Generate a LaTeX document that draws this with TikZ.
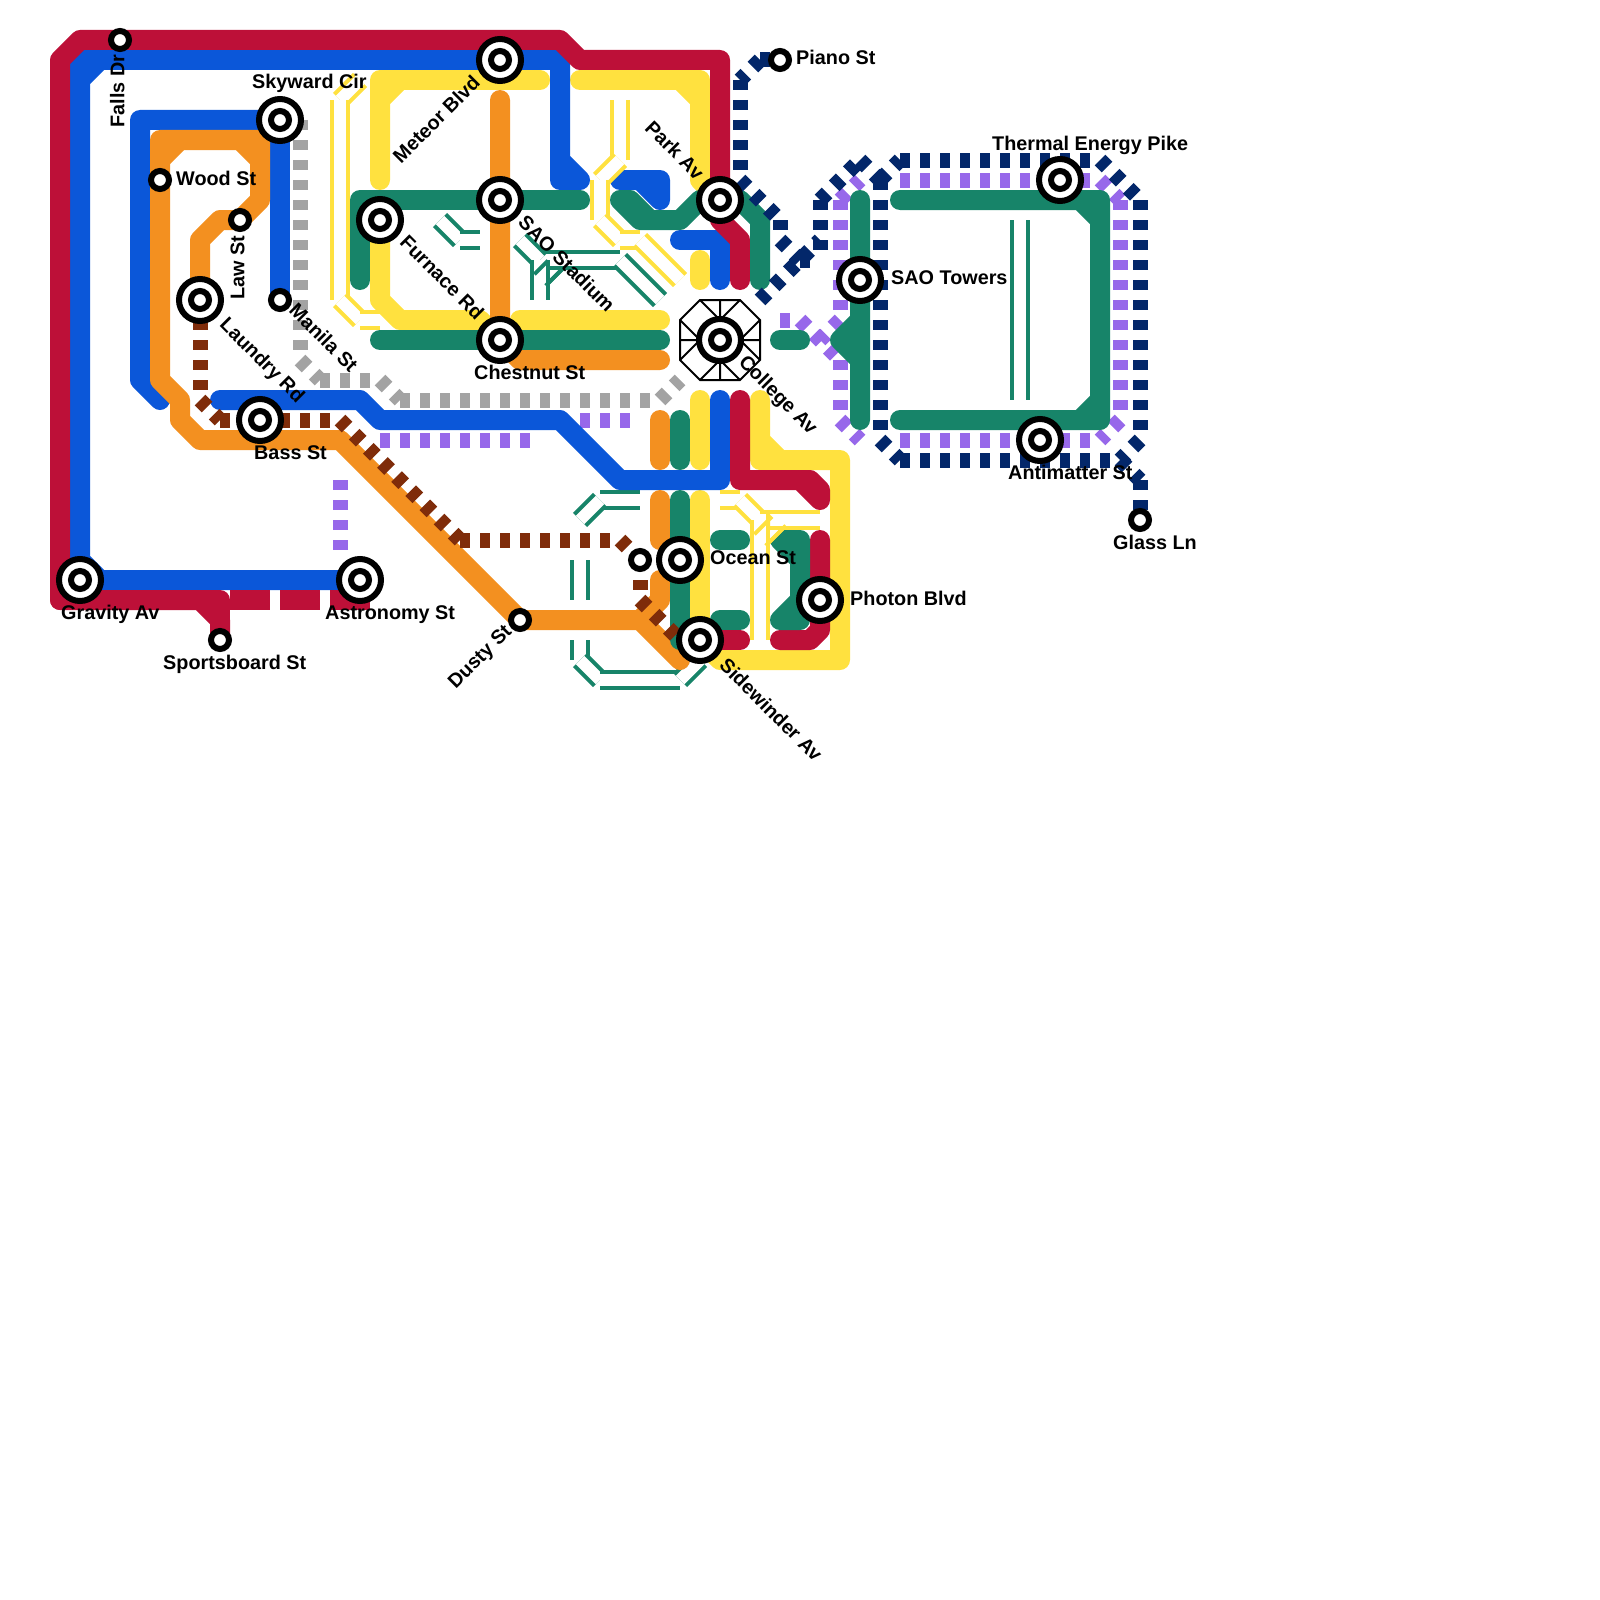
\documentclass[tikz,border=0pt]{standalone}
\usepackage{fontspec}
\setmainfont{Liberation Sans}
\usepackage{xcolor}
\usetikzlibrary{arrows.meta,positioning}
\definecolor{lred}{HTML}{BD1038}
\definecolor{lblue}{HTML}{0B57D9}
\definecolor{lorange}{HTML}{F39020}
\definecolor{lyellow}{HTML}{FFE13F}
\definecolor{lgreen}{HTML}{178469}
\definecolor{lpurple}{HTML}{9768EA}
\definecolor{lnavy}{HTML}{03276A}
\definecolor{lbrown}{HTML}{7F2C0A}
\definecolor{lgrey}{HTML}{A3A3A3}
\begin{document}
\begin{tikzpicture}[x=1pt,y=-1pt,
  solid/.style={line width=20pt,line cap=round,line join=round},
  tunnel/.style={line width=4pt,double=white,double distance=12pt,line cap=butt},
  rail/.style={line width=4pt,line cap=butt},
  dots/.style={line width=15pt,dash pattern=on 10pt off 10pt,line cap=butt},
  bigst/.style={circle,draw=black,fill=white,line width=6pt,minimum size=42pt,inner sep=0pt,outer sep=0pt},
  smallst/.style={circle,draw=black,fill=white,line width=6pt,minimum size=18pt,inner sep=0pt,outer sep=0pt},
  lab/.style={font=\fontsize{19.8}{24}\selectfont\bfseries,inner sep=0pt,text=black},
  rlab/.style={lab,text height=14.5pt,text depth=4pt}]
\useasboundingbox (0,0) rectangle (1600,1600);
\foreach \n/\x/\y in {skyward/280/120,meteor/500/60,furnace/380/220,stadium/500/200,chestnut/500/340,parkav/720/200,college/720/340,towers/860/280,thermal/1060/180,antimatter/1040/440,laundry/200/300,bass/260/420,gravity/80/580,astronomy/360/580,ocean/680/560,sidewinder/700/640,photon/820/600,falls/120/40,wood/160/180,law/240/220,manila/280/300,piano/780/60,glass/1140/520,sportsboard/220/640,dusty/520/620,spare/640/560}{
  \coordinate (\n) at (\x,\y);
}
\foreach \xa/\ya/\xb/\yb in {1020/220/1020/400,440/220/460/240,460/240/480/240,540/280/560/260,540/260/620/260,620/260/660/300,520/240/540/260,540/260/540/300,600/500/640/500,580/520/600/500,580/560/580/600,580/640/580/660,580/660/600/680,600/680/680/680,680/680/700/660}{
  \draw[tunnel,lgreen] (\xa,\ya) -- (\xb,\yb);
}
\draw[rail,lgreen] (534.3,274.3) -- (548,260.6) (545.7,285.7) -- (563,268.4);
\foreach \xa/\ya/\xb/\yb in {780/320/800/320,800/320/840/360,840/320/820/340,840/200/840/320,840/360/840/420,840/420/860/440,840/200/860/180,900/180/1100/180,1100/180/1120/200,1120/200/1120/420,1120/420/1100/440,900/440/1100/440,340/480/340/560,380/440/540/440,580/420/640/420}{
  \draw[dots,lpurple] (\xa,\ya) -- (\xb,\yb);
}
\draw[solid,lyellow] (380,180) -- (380,80) -- (540,80) (380,100) -- (400,80);
\draw[solid,lyellow] (furnace) -- (380,300) -- (400,320) -- (480,320) -- (chestnut);
\draw[solid,lyellow] (520,320) -- (660,320);
\draw[solid,lyellow] (580,80) -- (700,80) -- (700,180) -- (parkav) (680,80) -- (700,100);
\draw[solid,lyellow] (700,260) -- (700,280);
\draw[solid,lyellow] (700,400) -- (700,460);
\draw[solid,lyellow] (700,500) -- (sidewinder);
\draw[solid,lyellow] (760,400) -- (760,460) -- (840,460) -- (840,660) -- (720,660) -- (sidewinder) (760,440) -- (780,460);
\draw[solid,lblue] (astronomy) -- (gravity) -- (80,60) -- (560,60) -- (560,180) -- (580,180) (560,160) -- (580,180) (80,560) -- (100,580) (80,80) -- (100,60);
\draw[solid,lblue] (skyward) -- (140,120) -- (140,380) -- (160,400);
\draw[solid,lblue] (skyward) -- (manila);
\draw[solid,lblue] (620,180) -- (660,180) -- (660,200) (640,180) -- (660,200);
\draw[solid,lblue] (680,240) -- (720,240) -- (720,280);
\draw[solid,lblue] (720,400) -- (720,480) -- (620,480) -- (560,420) -- (380,420) -- (360,400) -- (220,400);
\draw[solid,lorange] (laundry) -- (200,240) -- (220,220) -- (law) -- (260,200) -- (260,140) -- (160,140) -- (160,380) -- (180,400) -- (180,420) -- (200,440) -- (340,440) -- (dusty) -- (640,620) -- (680,660);
\draw[solid,lorange] (160,160) -- (180,140) (240,140) -- (260,160);
\draw[solid,lorange] (500,100) -- (chestnut) -- (520,360) -- (660,360);
\draw[solid,lorange] (660,420) -- (660,460);
\draw[solid,lorange] (660,500) -- (660,540);
\draw[solid,lorange] (660,580) -- (660,600) -- (640,620);
\draw[solid,lred] (sportsboard) -- (220,620) -- (200,600) -- (60,600) -- (60,60) -- (80,40) -- (560,40) -- (580,60) -- (720,60) -- (720,220) -- (740,240) -- (740,280);
\draw[solid,lred] (60,600) -- (220,600) -- (sportsboard);
\draw[lred,line width=20pt,dash pattern=on 40pt off 10pt] (230,600) -- (370,600);
\draw[solid,lred] (740,400) -- (740,480) -- (810,480) -- (820,490) -- (820,500) (800,480) -- (820,500);
\draw[solid,lred] (sidewinder) -- (740,640);
\draw[solid,lred] (820,540) -- (820,630) -- (810,640) -- (780,640);
\draw[solid,lgreen] (360,280) -- (360,200) -- (580,200);
\draw[solid,lgreen] (380,340) -- (660,340);
\draw[solid,lgreen] (620,200) -- (630,200) -- (650,220) -- (680,220) -- (700,200) -- (740,200) -- (760,220) -- (760,280) (620,200) -- (640,220) -- (680,220);
\draw[solid,lgreen] (780,340) -- (800,340);
\draw[solid,lgreen] (860,200) -- (860,420) (860,320) -- (840,340) -- (860,360);
\draw[solid,lgreen] (900,200) -- (1100,200) -- (1100,420) -- (900,420) (1080,200) -- (1100,220) (1080,420) -- (1100,400);
\draw[solid,lgreen] (680,420) -- (680,460);
\draw[solid,lgreen] (680,500) -- (680,640);
\draw[solid,lgreen] (720,540) -- (740,540);
\draw[solid,lgreen] (720,620) -- (740,620);
\draw[solid,lgreen] (780,540) -- (800,540) -- (800,620) -- (780,620) (780,540) -- (800,560) (780,620) -- (800,600);
\foreach \xa/\ya/\xb/\yb in {340/100/360/80,340/100/340/300,340/300/360/320,360/320/380/320,620/100/620/160,600/180/620/160,600/180/600/220,600/220/620/240,620/240/640/240,640/240/680/280,720/500/740/500,740/500/760/520,760/540/780/520,760/520/820/520,760/520/760/640}{
  \draw[tunnel,lyellow] (\xa,\ya) -- (\xb,\yb);
}
\draw[rail,lyellow] (754.3,534.3) -- (772,516.6) (765.7,545.7) -- (785.7,525.7) (768,514) -- (768,530);
\foreach \xa/\ya/\xb/\yb in {300/120/300/360,300/360/320/380,320/380/380/380,380/380/400/400,400/400/660/400,660/400/680/380}{
  \draw[dots,lgrey] (\xa,\ya) -- (\xb,\yb);
}
\foreach \xa/\ya/\xb/\yb in {200/320/200/400,200/400/220/420,220/420/340/420,340/420/460/540,460/540/620/540,620/540/640/560,640/580/640/600,640/600/680/640}{
  \draw[dots,lbrown] (\xa,\ya) -- (\xb,\yb);
}
\foreach \xa/\ya/\xb/\yb in {760/60/780/60,760/60/740/80,740/80/740/180,740/180/780/220,780/220/780/240,780/240/800/260,800/260/820/260,820/200/820/260,760/300/820/240,820/200/860/160,860/160/880/180,880/180/900/160,880/180/880/440,880/440/900/460,900/460/1120/460,1140/440/1120/460,900/160/1100/160,1100/160/1140/200,1140/200/1140/440,1120/460/1140/480,1140/480/1140/520}{
  \draw[dots,lnavy] (\xa,\ya) -- (\xb,\yb);
}
\draw[black,line width=2pt,fill=white] (700,300) -- (740,300) -- (760,320) -- (760,360) -- (740,380) -- (700,380) -- (680,360) -- (680,320) -- cycle;
\draw[black,line width=2pt] (680,340) -- (760,340) (720,300) -- (720,380) (700,300) -- (760,360) (740,300) -- (680,360) (680,320) -- (740,380) (760,320) -- (700,380);
\foreach \n in {skyward,meteor,furnace,stadium,chestnut,parkav,college,towers,thermal,antimatter,laundry,bass,gravity,astronomy,ocean,sidewinder,photon}{
  \node[bigst] (s\n) at (\n) {};
  \node[smallst] (i\n) at (\n) {};
}
\foreach \n in {falls,wood,law,manila,piano,glass,sportsboard,dusty,spare}{
  \node[smallst] (s\n) at (\n) {};
}
\foreach \n/\x/\y/\t in {skyward/252/89/Skyward Cir,wood/176/185/Wood St,chestnut/474/379/Chestnut St,piano/796/65/Piano St,towers/891/284/SAO Towers,thermal/992/150/Thermal Energy Pike,antimatter/1008/479/Antimatter St,glass/1113/549/Glass Ln,ocean/710/564/Ocean St,photon/850/605/Photon Blvd,gravity/61/619/Gravity Av,astronomy/325/619/Astronomy St,sportsboard/163/669/Sportsboard St,bass/254/459/Bass St}{
  \node[lab,anchor=base west] (l\n) at (\x,\y) {\t};
}
\foreach \n/\x/\y/\t in {manila/322.5/339/Manila St,laundry/261.5/361/Laundry Rd,furnace/441/278.5/Furnace Rd,stadium/565.5/265/SAO Stadium,parkav/673.5/151.5/Park Av,college/777.5/396/College Av,sidewinder/770/711/Sidewinder Av}{
  \node[rlab,rotate=-45] (l\n) at (\x,\y) {\t};
}
\foreach \n/\x/\y/\t in {meteor/437.5/120.5/Meteor Blvd,dusty/480.5/657.5/Dusty St}{
  \node[rlab,rotate=45] (l\n) at (\x,\y) {\t};
}
\foreach \n/\x/\y/\t in {falls/119/91/Falls Dr,law/239/267.5/Law St}{
  \node[rlab,rotate=90] (l\n) at (\x,\y) {\t};
}
\end{tikzpicture}
\end{document}
